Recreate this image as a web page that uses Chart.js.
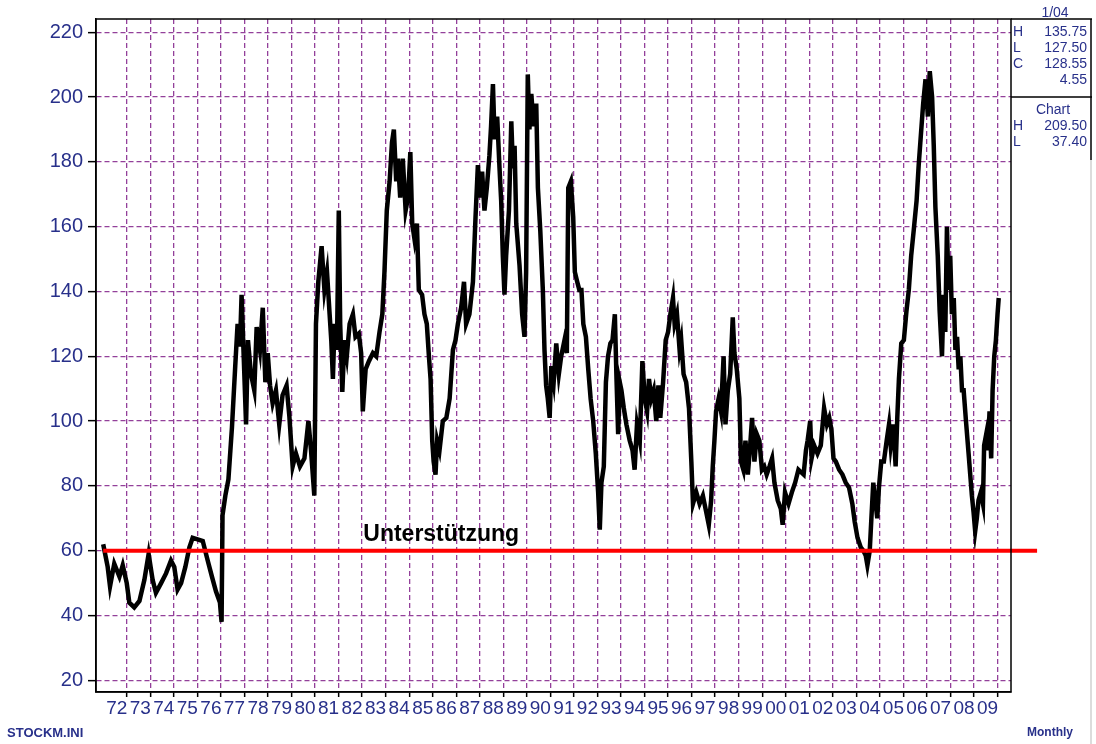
<!DOCTYPE html>
<html>
<head>
<meta charset="utf-8">
<script src="https://cdn.jsdelivr.net/npm/chart.js@4.4.1/dist/chart.umd.min.js"></script>
<style>
  html, body { margin: 0; padding: 0; background: #fff; }
  #wrap { width: 1096px; height: 744px; position: relative; }
</style>
</head>
<body>
<div id="wrap"><canvas id="kurs"></canvas></div>
<script>
const jahre = [
  1972.0, 1972.19, 1972.29, 1972.47, 1972.69, 1972.83, 1973.0, 1973.11, 1973.32, 1973.54,
  1973.75, 1973.93, 1974.1, 1974.24, 1974.46, 1974.67, 1974.88, 1975.02, 1975.16, 1975.31,
  1975.49, 1975.66, 1975.8, 1976.01, 1976.23, 1976.44, 1976.62, 1976.79, 1976.96, 1977.03,
  1977.07, 1977.19, 1977.32, 1977.47, 1977.61, 1977.71, 1977.81, 1977.88, 1977.97, 1978.07,
  1978.15, 1978.28, 1978.42, 1978.52, 1978.66, 1978.78, 1978.89, 1978.99, 1979.09, 1979.2,
  1979.34, 1979.48, 1979.62, 1979.79, 1979.91, 1980.05, 1980.19, 1980.36, 1980.55, 1980.72,
  1980.83, 1980.97, 1981.04, 1981.14, 1981.28, 1981.4, 1981.51,
  1981.62, 1981.69, 1981.76, 1981.83, 1981.93, 1982.01, 1982.07, 1982.16, 1982.25, 1982.35,
  1982.47, 1982.61, 1982.72, 1982.86, 1982.96, 1983.03, 1983.15, 1983.29, 1983.46, 1983.6,
  1983.74, 1983.86, 1983.95, 1984.05, 1984.17, 1984.27, 1984.35, 1984.45, 1984.52, 1984.62,
  1984.73, 1984.85, 1984.95, 1985.05, 1985.13, 1985.23, 1985.33, 1985.41, 1985.55, 1985.65,
  1985.75, 1985.84, 1985.91, 1985.98, 1986.04, 1986.12, 1986.19, 1986.29, 1986.43, 1986.58,
  1986.72, 1986.86, 1986.97, 1987.07, 1987.21, 1987.33, 1987.42, 1987.56, 1987.71, 1987.82,
  1987.92, 1988.02, 1988.1, 1988.2, 1988.3, 1988.41, 1988.48, 1988.56, 1988.63, 1988.74,
  1988.84, 1988.91, 1988.98, 1989.05, 1989.12, 1989.24, 1989.34, 1989.41, 1989.48, 1989.55,
  1989.69, 1989.8, 1989.9, 1989.97, 1990.04, 1990.11, 1990.19, 1990.29, 1990.4, 1990.47,
  1990.57, 1990.68, 1990.75, 1990.82, 1990.89, 1990.97, 1991.04, 1991.14, 1991.25, 1991.36,
  1991.46, 1991.6, 1991.7, 1991.76,
  1991.87, 1991.97, 1992.04, 1992.14, 1992.23, 1992.32, 1992.4, 1992.51, 1992.61, 1992.71,
  1992.82, 1992.93, 1993.03, 1993.1, 1993.17, 1993.27, 1993.36, 1993.45, 1993.55, 1993.64,
  1993.74, 1993.81, 1993.88, 1993.95, 1994.02, 1994.12, 1994.23, 1994.37, 1994.49, 1994.58,
  1994.68, 1994.8, 1994.91, 1995.01, 1995.11, 1995.19, 1995.29, 1995.39, 1995.5, 1995.59,
  1995.67, 1995.79, 1995.9, 1996.0, 1996.1, 1996.21, 1996.28, 1996.38, 1996.49, 1996.56,
  1996.66, 1996.77, 1996.89, 1996.99, 1997.06, 1997.2, 1997.34, 1997.48, 1997.62, 1997.73,
  1997.83, 1997.9, 1997.97, 1998.04, 1998.15, 1998.25, 1998.36, 1998.44, 1998.54, 1998.64,
  1998.75, 1998.82, 1998.92, 1999.03, 1999.1, 1999.2, 1999.29, 1999.39, 1999.49, 1999.57,
  1999.67, 1999.77, 1999.88, 1999.99, 2000.09, 2000.19, 2000.31, 2000.42, 2000.52, 2000.66,
  2000.79, 2000.87, 2000.97, 2001.12, 2001.26, 2001.4, 2001.54,
  2001.76, 2001.86, 2001.93, 2002.04, 2002.1, 2002.21, 2002.35, 2002.49, 2002.63, 2002.75,
  2002.85, 2002.94, 2003.03, 2003.13, 2003.27, 2003.41, 2003.55, 2003.69, 2003.83, 2003.93,
  2004.05, 2004.19, 2004.3, 2004.4, 2004.47, 2004.57, 2004.64, 2004.72, 2004.82, 2004.89,
  2004.96, 2005.06, 2005.17, 2005.29, 2005.39, 2005.46, 2005.57, 2005.67, 2005.74, 2005.81,
  2005.91, 2006.02, 2006.13, 2006.23, 2006.33, 2006.44, 2006.56, 2006.65, 2006.72, 2006.84,
  2006.94, 2007.04, 2007.12, 2007.22, 2007.29, 2007.36, 2007.46, 2007.54, 2007.64, 2007.71,
  2007.78, 2007.85, 2007.92, 2007.99, 2008.06, 2008.14, 2008.21, 2008.28, 2008.35, 2008.42,
  2008.49, 2008.56, 2008.67, 2008.77, 2008.84, 2008.91, 2008.98, 2009.05, 2009.12, 2009.19,
  2009.29, 2009.38, 2009.43, 2009.52, 2009.59, 2009.66, 2009.73, 2009.79, 2009.86, 2009.93,
  2010.0, 2010.05
];
const kurs = [
  62, 55, 49, 56, 52, 55.5, 50, 44, 42.5, 44.5,
  51, 59, 51, 47, 50, 53, 57, 55, 48, 50,
  55, 61, 64, 63.5, 63, 57, 52, 47.5, 44, 38,
  71, 77, 82, 98, 117, 130, 123, 139, 120, 99,
  125, 114.5, 109.5, 129, 122, 135, 112, 121, 111, 105.5,
  109.5, 99, 108, 111, 101.5, 86, 90, 86, 88.5, 100,
  91, 77, 130, 143, 154, 140.5, 146,
  133, 125, 113, 130, 122, 165, 130, 109, 125, 120,
  130, 133, 126, 127, 121, 103, 116, 118.5, 121, 120,
  127.5, 133, 146, 165, 174, 186, 190, 174, 181, 169,
  181, 165, 169, 183, 161, 156, 161, 140.5, 139, 133,
  130, 120, 113, 94, 87.5, 83.5, 94, 91, 100, 101,
  107, 122, 125, 130, 135, 143, 130, 133, 143, 163,
  179, 169, 177, 165, 172, 182, 191, 204, 187, 194,
  178, 168, 151, 139, 151, 165, 192.5, 178, 185, 161,
  148, 133, 126, 146, 207, 190, 201, 191, 198, 172,
  159, 140.5, 122, 111, 107, 101, 117, 112, 124, 114.5,
  120, 125, 121, 172,
  174, 163, 146, 143, 140.5, 140.5, 130, 126, 116, 107,
  100, 90, 78, 66.5, 81, 86, 112, 120, 124, 125,
  133, 113, 96, 112, 109.5, 104, 99, 94, 91, 85,
  99, 94, 118.5, 107, 103, 113, 107, 109.5, 100, 111,
  101, 112, 125, 127.5, 133, 138, 130, 133, 122, 125,
  114.5, 112, 104, 87.5, 74.5, 78, 74.5, 77, 72, 68,
  75.5, 86, 94, 103, 107, 103, 120, 99, 109.5, 114.5,
  132, 121, 116, 107, 87.5, 85, 94, 83.5, 92.5, 101,
  87.5, 96, 94, 85, 86, 83.5, 86, 88.5, 81, 75.5,
  73, 68, 78, 74.5, 78, 81, 85,
  83.5, 91, 94, 100, 88.5, 92.5, 90, 92.5, 104, 99,
  101, 97.5, 88.5, 87.5, 85, 83.5, 81, 79.5, 74.5, 69,
  64, 61, 60, 58.5, 55.5, 60, 70, 81, 74.5, 70,
  79.5, 87.5, 87.5, 94, 99, 92.5, 99, 86, 101, 113,
  124, 125, 134, 140.5, 151, 159, 168, 179, 186, 198,
  205.5, 194, 208, 200, 185, 166, 151, 134, 120, 139,
  127.5, 160, 140.5, 151, 133, 138, 122, 126, 116, 120,
  109.5, 109.5, 99, 90, 83.5, 77, 72, 66, 70, 75.5,
  78, 74.5, 92.5, 96, 91, 103, 88.5, 109.5, 120, 125,
  133, 138
];

const yTicks = [20, 40, 60, 80, 100, 120, 140, 160, 180, 200, 220];
// Jahresgrenzen (Januar), Beschriftung = vorhergehendes Jahr
const xTicks = [];
for (let j = 1973; j <= 2010; j++) xTicks.push(j);

const unterstuetzung = 60;
const supportVon = 1972.0;
const supportBis = 2011.68;

const infoLinks = ['H', 'L', 'C', ''];
const infoWerte = ['135.75', '127.50', '128.55', '4.55'];
const chartLinks = ['H', 'L'];
const chartWerte = ['209.50', '37.40'];

const navy = '#28308a';
const gitter = '#93409a';

const punkte = jahre.map((j, i) => ({ x: j, y: kurs[i] }));

const extras = {
  id: 'extras',
  afterDraw(chart) {
    const ctx = chart.ctx;
    const a = chart.chartArea;
    const ys = chart.scales.y;
    const xs = chart.scales.x;
    ctx.save();
    // Rahmen
    ctx.strokeStyle = '#000';
    ctx.lineWidth = 1.5;
    ctx.strokeRect(a.left, a.top, a.right - a.left, a.bottom - a.top);
    // Infokasten rechts
    ctx.beginPath();
    ctx.moveTo(a.right, a.top); ctx.lineTo(1092, a.top);
    ctx.moveTo(a.right, 97); ctx.lineTo(1092, 97);
    ctx.moveTo(1091, a.top); ctx.lineTo(1091, 160);
    ctx.stroke();
    ctx.strokeStyle = '#d0d0d0';
    ctx.beginPath();
    ctx.moveTo(1091, 160); ctx.lineTo(1091, 744);
    ctx.stroke();

    ctx.fillStyle = navy;
    ctx.font = '14px "Liberation Sans", Arial, sans-serif';
    ctx.textBaseline = 'middle';
    ctx.textAlign = 'center';
    ctx.fillText('1/04', 1055, 13);
    for (let i = 0; i < infoWerte.length; i++) {
      const y = 32 + i * 16;
      ctx.textAlign = 'left';
      ctx.fillText(infoLinks[i], 1013, y);
      ctx.textAlign = 'right';
      ctx.fillText(infoWerte[i], 1087, y);
    }
    ctx.textAlign = 'center';
    ctx.fillText('Chart', 1053, 110);
    for (let i = 0; i < chartWerte.length; i++) {
      const y = 126 + i * 16;
      ctx.textAlign = 'left';
      ctx.fillText(chartLinks[i], 1013, y);
      ctx.textAlign = 'right';
      ctx.fillText(chartWerte[i], 1087, y);
    }

    ctx.font = 'bold 13px "Liberation Sans", Arial, sans-serif';
    ctx.textAlign = 'left';
    ctx.fillText('STOCKM.INI', 7, 733);
    ctx.font = 'bold 12px "Liberation Sans", Arial, sans-serif';
    ctx.fillText('Monthly', 1027, 733);

    // Beschriftung Unterstuetzung
    ctx.fillStyle = '#000';
    ctx.font = 'bold 23px "Liberation Sans", Arial, sans-serif';
    ctx.textBaseline = 'alphabetic';
    ctx.textAlign = 'left';
    ctx.fillText('Unterstützung', xs.getPixelForValue(1983.05), ys.getPixelForValue(unterstuetzung) - 10);
    ctx.restore();
  }
};

new Chart(document.getElementById('kurs'), {
  type: 'line',
  data: {
    datasets: [
      {
        label: 'Unterstützung',
        data: [{ x: supportVon, y: unterstuetzung }, { x: supportBis, y: unterstuetzung }],
        borderColor: '#ff0000',
        borderWidth: 4,
        pointRadius: 0,
        clip: false,
        order: 0
      },
      {
        label: 'Kurs',
        data: punkte,
        borderColor: '#000',
        borderWidth: 4.5,
        borderJoinStyle: 'miter',
        pointRadius: 0,
        tension: 0,
        order: 1
      }
    ]
  },
  options: {
    responsive: true,
    maintainAspectRatio: false,
    animation: false,
    layout: { padding: { top: 19, right: 85, bottom: 0, left: 0 } },
    plugins: {
      legend: { display: false },
      tooltip: { enabled: false },
      title: { display: false }
    },
    scales: {
      x: {
        type: 'linear',
        min: 1971.694,
        max: 2010.572,
        afterBuildTicks: (s) => { s.ticks = xTicks.map(v => ({ value: v })); },
        afterFit: (s) => { s.height = 52; },
        ticks: {
          autoSkip: false,
          maxRotation: 0,
          minRotation: 0,
          labelOffset: -10,
          padding: 0,
          color: navy,
          font: { size: 19, family: '"Liberation Sans", Arial, sans-serif' },
          callback: (v) => String((v - 1) % 100).padStart(2, '0')
        },
        grid: { color: gitter, lineWidth: 1.3, tickColor: '#000', tickLength: 5, tickWidth: 1.5 },
        border: { display: true, color: '#000', width: 1.5, dash: [5, 3] }
      },
      y: {
        type: 'linear',
        min: 16.4,
        max: 224.1,
        afterBuildTicks: (s) => { s.ticks = yTicks.map(v => ({ value: v })); },
        afterFit: (s) => { s.width = 96; },
        ticks: {
          padding: 5,
          color: navy,
          font: { size: 20, family: '"Liberation Sans", Arial, sans-serif' }
        },
        grid: { color: gitter, lineWidth: 1.3, tickColor: '#000', tickLength: 8, tickWidth: 1.5 },
        border: { display: true, color: '#000', width: 1.5, dash: [5, 3] }
      }
    }
  },
  plugins: [extras]
});
</script>
</body>
</html>
